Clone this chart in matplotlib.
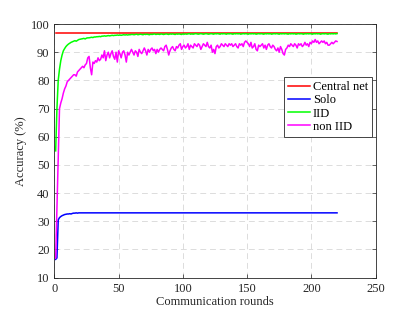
import matplotlib
matplotlib.use("Agg")
import matplotlib.pyplot as plt

rounds = list(range(1, 221))

central_acc = [96.8] * 220

solo_head = [16.5, 17.0, 30.5, 31.3, 31.7, 32.0, 32.2, 32.4, 32.5, 32.6,
             32.6, 32.7, 32.6, 32.8, 32.9, 32.9, 33.0, 32.9, 33.0, 33.0]
solo_acc = solo_head + [33.0] * 200

iid_acc = [
    55.0, 70.0, 80.0, 84.0, 87.0, 89.0, 90.5, 91.3, 92.0, 92.5,
    92.9, 93.2, 93.5, 93.7, 93.9, 94.1, 93.9, 94.2, 94.5, 94.6,
    94.7, 94.8, 94.9, 94.7, 95.0, 95.1, 95.1, 95.2, 95.3, 95.2,
    95.4, 95.4, 95.5, 95.5, 95.6, 95.5, 95.7, 95.7, 95.8, 95.7,
    95.8, 95.9, 95.8, 95.9, 96.0, 95.9, 96.0, 96.0, 96.1, 96.0,
    96.1, 96.0, 96.1, 96.2, 96.1, 96.2, 96.1, 96.2, 96.2, 96.3,
    96.3, 96.2, 96.3, 96.4, 96.2, 96.3, 96.4, 96.3, 96.2, 96.4,
    96.3, 96.4, 96.3, 96.2, 96.4, 96.3, 96.4, 96.5, 96.3, 96.4,
    96.4, 96.3, 96.5, 96.4, 96.3, 96.4, 96.5, 96.4, 96.3, 96.5,
    96.4, 96.5, 96.4, 96.3, 96.5, 96.4, 96.5, 96.4, 96.3, 96.5,
    96.4, 96.5, 96.4, 96.5, 96.6, 96.4, 96.5, 96.4, 96.5, 96.6,
    96.5, 96.4, 96.5, 96.6, 96.5, 96.4, 96.5, 96.6, 96.5, 96.4,
    96.5, 96.6, 96.5, 96.4, 96.6, 96.5, 96.6, 96.5, 96.4, 96.6,
    96.5, 96.6, 96.5, 96.4, 96.6, 96.5, 96.6, 96.5, 96.4, 96.6,
    96.5, 96.6, 96.5, 96.6, 96.4, 96.5, 96.6, 96.5, 96.6, 96.5,
    96.4, 96.6, 96.5, 96.6, 96.5, 96.6, 96.4, 96.5, 96.6, 96.5,
    96.6, 96.5, 96.4, 96.6, 96.5, 96.6, 96.5, 96.6, 96.4, 96.5,
    96.6, 96.5, 96.6, 96.5, 96.4, 96.6, 96.5, 96.6, 96.5, 96.6,
    96.5, 96.4, 96.6, 96.5, 96.6, 96.5, 96.6, 96.4, 96.5, 96.6,
    96.5, 96.6, 96.5, 96.4, 96.6, 96.5, 96.6, 96.5, 96.6, 96.5,
    96.4, 96.6, 96.5, 96.6, 96.5, 96.6, 96.4, 96.5, 96.6, 96.5,
    96.6, 96.5, 96.4, 96.6, 96.5, 96.6, 96.5, 96.6, 96.5, 96.6,
]

noniid_acc = [
    17.0, 35.0, 53.0, 70.0, 72.0, 73.5, 75.5, 77.0, 78.0, 79.5,
    80.0, 80.5, 81.0, 81.5, 82.0, 82.0, 81.5, 83.0, 83.5, 84.0,
    84.5, 85.0, 84.5, 85.5, 86.0, 88.0, 88.5, 84.5, 82.0, 86.5,
    86.0, 87.0, 86.5, 88.0, 87.0, 87.5, 89.0, 88.0, 90.5, 87.0,
    89.0, 90.0, 88.0, 89.5, 90.5, 88.5, 87.5, 90.0, 86.5, 90.5,
    89.5, 88.0, 90.0, 90.5, 89.0, 86.5, 90.0, 89.0, 90.0, 91.0,
    90.0, 89.0, 90.5, 90.0, 88.5, 91.0, 90.0, 89.5, 90.5, 91.5,
    90.5, 89.0, 91.0, 90.0, 91.0, 91.5, 90.5, 91.0, 89.5, 91.0,
    90.0, 91.0, 91.5, 91.0, 90.5, 92.0, 92.5, 91.0, 89.0, 90.5,
    91.5, 92.0, 91.0, 90.5, 92.0, 91.5, 92.5, 93.0, 91.0, 92.0,
    92.5, 91.5, 92.0, 93.0, 91.0, 92.5, 92.0, 91.5, 93.0, 92.5,
    92.0, 93.0, 92.5, 91.0, 92.0, 93.0, 92.5, 92.0, 93.5, 92.0,
    91.5, 92.5, 90.0, 91.0, 89.5, 92.0, 92.5, 91.5, 92.0, 93.0,
    92.5, 92.0, 93.0, 92.5, 92.0, 93.0, 92.5, 93.0, 92.0, 92.5,
    93.0, 92.0, 91.5, 93.0, 92.5, 93.0, 92.0, 93.5, 94.0, 93.5,
    93.0, 92.0, 93.5, 91.5, 92.0, 93.0, 91.0, 90.5, 92.5, 92.0,
    92.5, 93.0, 91.5, 92.5, 91.0, 92.5, 93.0, 92.0, 91.5, 92.5,
    92.0, 91.0, 90.5, 91.5, 90.0, 92.0, 91.0, 89.5, 89.0, 91.0,
    91.5, 92.5, 92.0, 93.0, 92.5, 92.0, 93.0, 92.5, 91.5, 93.0,
    92.5, 93.0, 92.0, 92.5, 93.5, 92.5, 93.0, 92.0, 93.5, 93.0,
    94.0, 93.5, 94.5, 93.5, 94.0, 93.0, 93.5, 94.0, 93.5, 94.0,
    93.0, 93.5, 92.5, 92.5, 93.0, 93.5, 93.0, 93.5, 94.0, 93.8,
]

series_labels = ["Central net", "Solo", "IID", "non IID"]
series_colors = ["#ff0000", "#0000ff", "#00ff00", "#ff00ff"]

x_ticks = [0, 50, 100, 150, 200, 250]
y_ticks = [10, 20, 30, 40, 50, 60, 70, 80, 90, 100]

plt.rcParams["font.family"] = ["Liberation Serif", "DejaVu Serif"]
plt.rcParams["font.size"] = 9

fig = plt.figure(figsize=(4.15, 3.12), dpi=100)
ax = fig.add_axes([0.131, 0.110, 0.774, 0.813])

for vals, lab, col in zip([central_acc, solo_acc, iid_acc, noniid_acc],
                          series_labels, series_colors):
    ax.plot(rounds, vals, color=col, lw=1.1, label=lab)

ax.set_xlim(0, 250)
ax.set_ylim(10, 100)
ax.set_xticks(x_ticks)
ax.set_yticks(y_ticks)
ax.grid(True, linestyle=(0, (6, 4)), color="#dcdcdc", lw=0.7)
ax.set_axisbelow(True)
ax.tick_params(direction="in", top=True, right=True, length=3,
               color="#262626", labelcolor="#262626", width=0.5)
for sp in ax.spines.values():
    sp.set_color("#262626")
    sp.set_linewidth(0.6)

ax.set_xlabel("Communication rounds", color="#262626", labelpad=1)
ax.set_ylabel("Accuracy (%)", color="#262626", labelpad=3)

leg = ax.legend(loc="upper right", bbox_to_anchor=(0.989, 0.79),
                borderaxespad=0, fancybox=False, framealpha=1,
                edgecolor="#262626", handlelength=1.75, handletextpad=0.25,
                labelspacing=0.1, borderpad=0.3)
leg.get_frame().set_linewidth(0.6)

fig.savefig("out.png", dpi=100)
